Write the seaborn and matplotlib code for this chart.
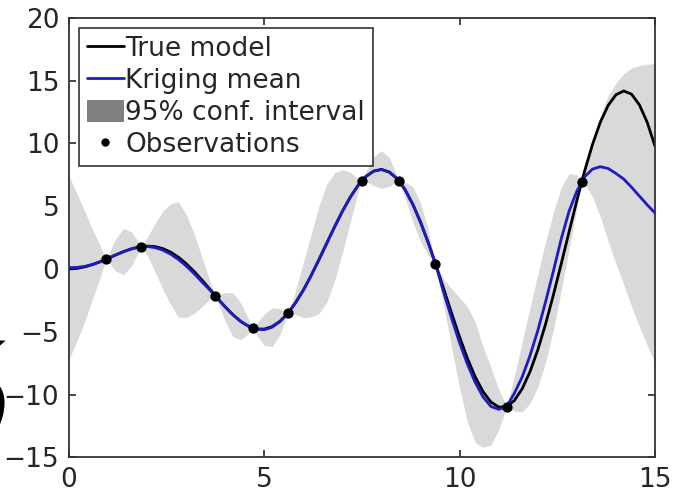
import matplotlib
matplotlib.use("Agg")
import matplotlib.pyplot as plt
from matplotlib.lines import Line2D
from matplotlib.patches import Patch
import numpy as np
import pandas as pd
import seaborn as sns

# Evaluation grid (design sites included so the band closes on them)
x_grid = [0.0, 0.2, 0.4, 0.6, 0.8, 0.95, 1.0, 1.2, 1.4, 1.6, 1.8, 1.85, 2.0, 2.2, 2.4,
          2.6, 2.8, 3.0, 3.2, 3.4, 3.6, 3.75, 3.8, 4.0, 4.2, 4.4, 4.6, 4.7, 4.8, 5.0,
          5.2, 5.4, 5.6, 5.8, 6.0, 6.2, 6.4, 6.6, 6.8, 7.0, 7.2, 7.4, 7.5, 7.6, 7.8,
          8.0, 8.2, 8.4, 8.45, 8.6, 8.8, 9.0, 9.2, 9.38, 9.4, 9.6, 9.8, 10.0, 10.2,
          10.4, 10.6, 10.8, 11.0, 11.2, 11.4, 11.6, 11.8, 12.0, 12.2, 12.4, 12.6,
          12.8, 13.0, 13.12, 13.2, 13.4, 13.6, 13.8, 14.0, 14.2, 14.4, 14.6, 14.8, 15.0]

true_model = [0.00, 0.04, 0.16, 0.34, 0.57, 0.77, 0.84, 1.12, 1.38, 1.60, 1.75, 1.78, 1.82,
              1.78, 1.62, 1.34, 0.94, 0.42, -0.19, -0.87, -1.59, -2.14, -2.33, -3.03,
              -3.66, -4.19, -4.57, -4.70, -4.78, -4.79, -4.59, -4.17, -3.54, -2.69,
              -1.68, -0.52, 0.75, 2.06, 3.36, 4.60, 5.71, 6.65, 7.04, 7.36, 7.79, 7.92,
              7.71, 7.18, 6.99, 6.32, 5.15, 3.71, 2.05, 0.42, 0.23, -1.67, -3.59, -5.44,
              -7.14, -8.61, -9.78, -10.60, -11.00, -10.97, -10.48, -9.54, -8.18, -6.44,
              -4.37, -2.05, 0.42, 2.96, 5.46, 6.90, 7.82, 9.92, 11.69, 13.02, 13.87,
              14.17, 13.91, 13.06, 11.67, 9.76]

kriging_mean = [0.10, 0.12, 0.20, 0.36, 0.58, 0.77, 0.84, 1.12, 1.38, 1.60, 1.75, 1.78, 1.79,
                1.70, 1.50, 1.18, 0.76, 0.24, -0.36, -1.02, -1.66, -2.14, -2.33, -3.03,
                -3.66, -4.19, -4.57, -4.70, -4.80, -4.84, -4.64, -4.19, -3.54, -2.69,
                -1.68, -0.52, 0.75, 2.06, 3.36, 4.60, 5.71, 6.65, 7.04, 7.36, 7.79, 7.92,
                7.71, 7.18, 6.99, 6.32, 5.15, 3.71, 2.05, 0.42, 0.20, -1.97, -4.00, -5.90,
                -7.60, -9.05, -10.20, -10.95, -11.18, -10.97, -9.90, -8.60, -6.90, -4.90,
                -2.60, -0.15, 2.40, 4.60, 6.20, 6.90, 7.35, 7.95, 8.14, 8.00, 7.60, 7.15,
                6.50, 5.80, 5.10, 4.45]

# Half width of the 95% confidence interval
ci_half = [7.3, 5.9, 4.4, 2.8, 1.25, 0.0, 0.25, 1.3, 1.85, 1.35, 0.3, 0.0, 0.7, 1.9, 3.1,
           4.0, 4.6, 4.1, 3.2, 2.0, 0.75, 0.0, 0.25, 1.15, 1.75, 1.45, 0.55, 0.0, 0.45,
           1.25, 1.55, 1.05, 0.0, 0.95, 2.2, 3.3, 4.3, 4.7, 4.3, 3.3, 2.0, 0.5, 0.0, 0.4,
           1.15, 1.5, 1.15, 0.2, 0.0, 0.6, 1.4, 1.55, 1.0, 0.0, 0.1, 1.1, 2.4, 3.6, 4.6,
           4.8, 4.0, 3.1, 1.6, 0.0, 1.4, 2.8, 3.8, 4.5, 4.8, 4.7, 4.1, 3.0, 1.3, 0.0, 0.6,
           2.2, 4.0, 5.8, 7.2, 8.4, 9.5, 10.4, 11.2, 11.9]

# Observations
obs_x = [0.95, 1.85, 3.75, 4.7, 5.6, 7.5, 8.45, 9.38, 11.2, 13.12]
obs_y = [0.77, 1.78, -2.14, -4.70, -3.54, 7.04, 6.99, 0.42, -10.97, 6.90]

x_ticks = [0, 5, 10, 15]
y_ticks = [-15, -10, -5, 0, 5, 10, 15, 20]

df = pd.DataFrame({"x": x_grid, "true": true_model, "mean": kriging_mean, "half": ci_half})
df["lower"] = df["mean"] - df["half"]
df["upper"] = df["mean"] + df["half"]
obs = pd.DataFrame({"x": obs_x, "y": obs_y})

sns.set_theme(style="ticks")
plt.rcParams["font.family"] = ["DejaVu Sans"]

text_col = "#262626"
band_col = "#d9d9d9"
blue = "#1c1cc0"

fig = plt.figure(figsize=(6.76, 4.93), dpi=100)
ax = fig.add_axes([0.102, 0.0724, 0.867, 0.8916])

ax.fill_between(df["x"], df["lower"], df["upper"], color=band_col, lw=0, zorder=1)
sns.lineplot(data=df, x="x", y="true", color="black", lw=2.0, ax=ax, zorder=2,
             estimator=None, sort=False)
sns.lineplot(data=df, x="x", y="mean", color=blue, lw=2.0, ax=ax, zorder=3,
             estimator=None, sort=False)
sns.scatterplot(data=obs, x="x", y="y", color="black", s=55, edgecolor="black",
                linewidth=0, ax=ax, zorder=4)
for ln in ax.get_lines():
    ln.set_solid_joinstyle("round")

ax.set_xlim(0, 15)
ax.set_ylim(-15, 20)
ax.set_xticks(x_ticks)
ax.set_yticks(y_ticks)
ax.set_xlabel("")
ax.set_ylabel("")
ax.tick_params(direction="in", top=True, right=True, length=5, width=1.2,
               labelsize=19, colors=text_col, pad=7)
ax.tick_params(axis="x", pad=7)
for sp in ax.spines.values():
    sp.set_visible(True)
    sp.set_color("#333333")
    sp.set_linewidth(1.3)

handles = [
    Line2D([], [], color="black", lw=2.0),
    Line2D([], [], color=blue, lw=2.0),
    Patch(facecolor="#808080", edgecolor="none"),
    Line2D([], [], color="black", lw=0, marker="o", markersize=5),
]
labels = ["True model", "Kriging mean", "95% conf. interval", "Observations"]
leg = ax.legend(handles, labels, loc="upper left", bbox_to_anchor=(0.017, 0.977),
                borderaxespad=0, fontsize=19, frameon=True, fancybox=False,
                edgecolor="#333333", framealpha=1, handlelength=1.4,
                handletextpad=0.05, labelspacing=0.23, borderpad=0.3,
                handleheight=0.9)
leg.get_frame().set_linewidth(1.2)
for t in leg.get_texts():
    t.set_color(text_col)

# Fragment of a large glyph cut by the left figure edge
fig.text(-0.045, 0.093, "ó", fontsize=96, family="DejaVu Serif", style="italic",
         ha="center", va="baseline", color="black")

fig.savefig("out.png", dpi=100)
